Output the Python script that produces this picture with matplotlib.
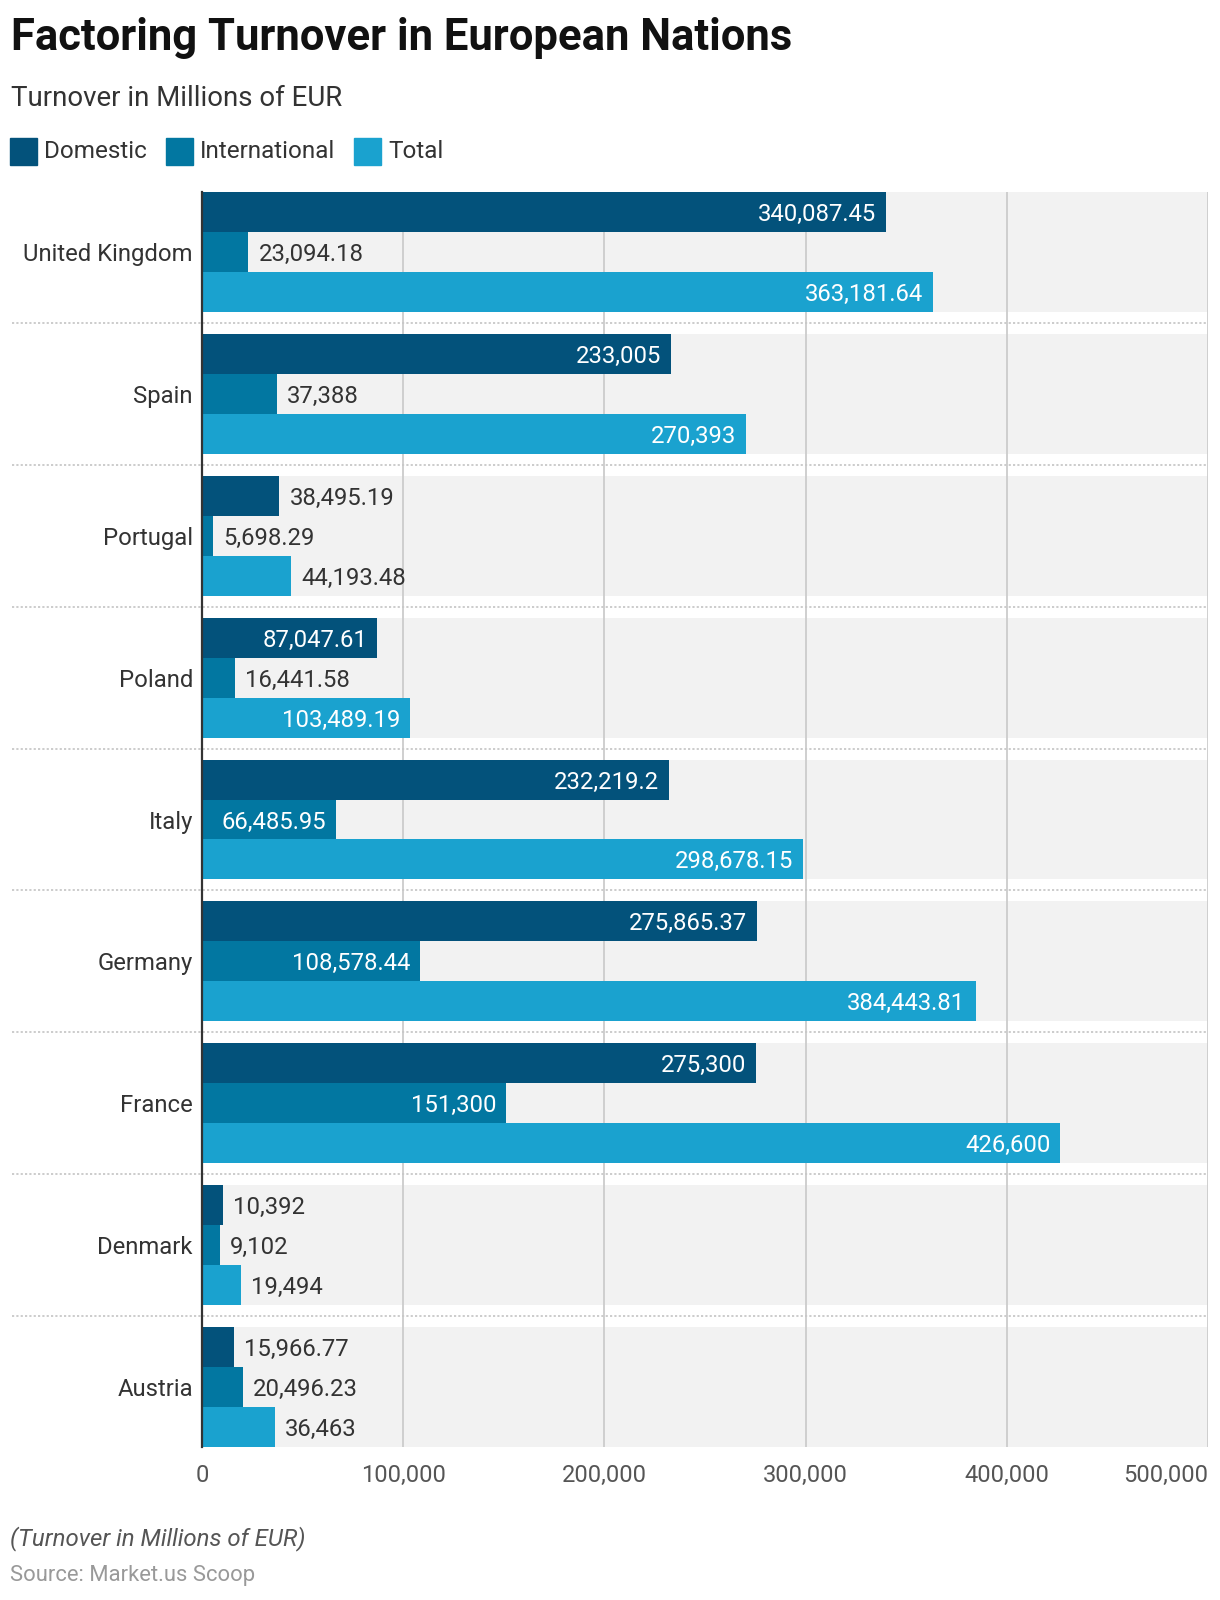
import matplotlib
matplotlib.use("Agg")
import matplotlib.pyplot as plt
import matplotlib.transforms as mtransforms
from matplotlib.patches import Rectangle

plt.rcParams['font.family'] = ['Roboto', 'DejaVu Sans']

countries = ["United Kingdom", "Spain", "Portugal", "Poland", "Italy",
             "Germany", "France", "Denmark", "Austria"]
domestic = [340087.45, 233005, 38495.19, 87047.61, 232219.2,
            275865.37, 275300, 10392, 15966.77]
international = [23094.18, 37388, 5698.29, 16441.58, 66485.95,
                 108578.44, 151300, 9102, 20496.23]
total = [363181.64, 270393, 44193.48, 103489.19, 298678.15,
         384443.81, 426600, 19494, 36463]
series_names = ["Domestic", "International", "Total"]
colors = ["#03527B", "#0277A1", "#1AA2CF"]
xticks = [0, 100000, 200000, 300000, 400000, 500000]

W, H = 1220, 1600
fig = plt.figure(figsize=(W / 100, H / 100), dpi=100)
ax_left, ax_right = 202 / W, 1208 / W
ax_top, ax_bot = 1 - 192 / H, 1 - 1447 / H
ax = fig.add_axes([ax_left, ax_bot, ax_right - ax_left, ax_top - ax_bot])

band = 0.845
bh = band / 3
n = len(countries)
xmax = 500000

for i in range(n):
    ax.barh(i, xmax, height=band, color="#F2F2F2", zorder=0, linewidth=0)

for x in xticks[1:]:
    ax.axvline(x, color="#CCCCCC", lw=1.3, zorder=1)

all_series = [domestic, international, total]
offsets = [-bh, 0, bh]
for s, (vals, col, off) in enumerate(zip(all_series, colors, offsets)):
    ax.barh([i + off for i in range(n)], vals, height=bh, color=col,
            zorder=2, linewidth=0)

ax.set_xlim(0, xmax)
ax.set_ylim(n - 1 + band / 2, -band / 2)

for sp in ["top", "right", "bottom"]:
    ax.spines[sp].set_visible(False)
ax.spines["left"].set_color("#333333")
ax.spines["left"].set_linewidth(1.6)
ax.spines["left"].set_zorder(5)

LBL = 17.2
ax.set_yticks(range(n))
ax.set_yticklabels(countries, fontsize=LBL, color="#333333")
ax.tick_params(axis="y", length=0, pad=6.5)
ax.set_xticks(xticks)
ax.set_xticklabels([f"{x:,}" for x in xticks], fontsize=17, color="#555555")
ax.tick_params(axis="x", length=0, pad=12)
lbls = ax.get_xticklabels()
lbls[-1].set_horizontalalignment("right")

# separators
trans = mtransforms.blended_transform_factory(fig.transFigure, ax.transData)
for i in range(n - 1):
    ax.plot([12 / W, 1208 / W], [i + 0.5, i + 0.5], transform=trans,
            color="#C8C8C8", lw=1.3, linestyle=(0, (1.2, 1.2)),
            clip_on=False, zorder=1)

def fmt(v):
    s = f"{v:,.2f}"
    s = s.rstrip("0").rstrip(".")
    return s

fig.canvas.draw()
renderer = fig.canvas.get_renderer()
pad_px = 10
x0_px = ax.transData.transform((0, 0))[0]
for vals, off in zip(all_series, offsets):
    for i, v in enumerate(vals):
        y = i + off
        t = ax.text(v, y, fmt(v), fontsize=LBL, va="center_baseline", ha="right",
                    color="white", zorder=4)
        tw = t.get_window_extent(renderer).width
        bar_px = ax.transData.transform((v, 0))[0] - x0_px
        if bar_px >= tw + 2 * pad_px:
            t.set_transform(ax.transData + mtransforms.ScaledTranslation(-pad_px / 100, 0, fig.dpi_scale_trans))
        else:
            t.set_ha("left")
            t.set_color("#333333")
            t.set_transform(ax.transData + mtransforms.ScaledTranslation(pad_px / 100, 0, fig.dpi_scale_trans))

# title etc.
fig.text(11 / W, 1 - 50 / H, "Factoring Turnover in European Nations",
         fontsize=31.4, fontweight="bold", color="#111111", va="baseline")
fig.text(11 / W, 1 - 106 / H, "Turnover in Millions of EUR",
         fontsize=19.9, color="#333333", va="baseline")

leg_x = [10, 166, 354]
for name, col, lx in zip(series_names, colors, leg_x):
    fig.patches.append(Rectangle((lx / W, 1 - 165 / H), 27 / W, 27 / H,
                                 transform=fig.transFigure, color=col))
    fig.text((lx + 34) / W, 1 - 158 / H, name, fontsize=17.5,
             color="#333333", va="baseline")

fig.text(10 / W, 1 - 1539 / H, "(Turnover in Millions of EUR)",
         fontsize=17.3, style="italic", color="#555555", va="center")
fig.text(10 / W, 1 - 1576 / H, "Source: Market.us Scoop",
         fontsize=15.8, color="#999999", va="center")

fig.savefig("out.png", dpi=100)
